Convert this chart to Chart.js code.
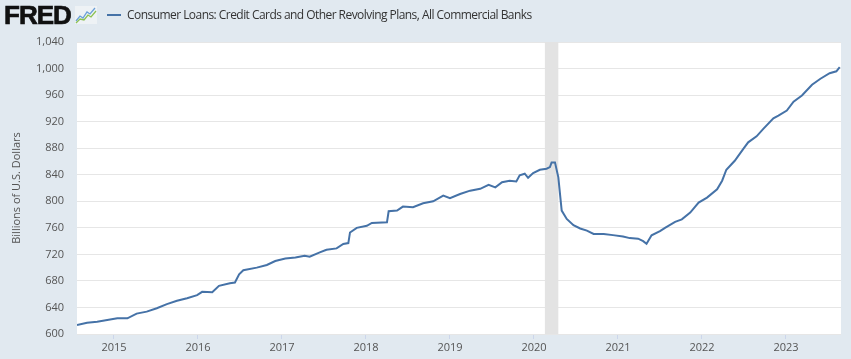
<!DOCTYPE html>
<html>
<head>
<meta charset="utf-8">
<title>Consumer Loans: Credit Cards and Other Revolving Plans</title>
<script src="https://cdn.jsdelivr.net/npm/chart.js@4.4.0/dist/chart.umd.min.js"></script>
<style>
  html, body { margin: 0; padding: 0; background: #e1e9f0; }
  #wrap { position: relative; width: 851px; height: 359px; overflow: hidden; background: #e1e9f0; }
  #chart { position: absolute; left: 0; top: 0; }
  .logo { position: absolute; left: 4px; top: 0px; font: bold 26px "Liberation Sans", Arial, sans-serif;
          letter-spacing: -1px; color: #111; line-height: 30px; -webkit-text-stroke: 0.7px #111; }
  .icon { position: absolute; left: 75px; top: 6px; }
  .swatch { position: absolute; left: 107px; top: 14px; width: 14px; height: 2px; background: #4572a7; }
  .legend { position: absolute; left: 127px; top: 6px; font: 12px "Open Sans", sans-serif; color: #333;
            line-height: 18px; letter-spacing: -0.55px; }
</style>
</head>
<body>
<div id="wrap">
  <canvas id="chart" width="851" height="359"></canvas>
  <div class="logo">FRED</div>
  <svg class="icon" width="22" height="18" viewBox="0 0 22 18">
    <rect x="0" y="0" width="22" height="18" fill="#eef2f5"/>
    <polyline points="1,15 5,10 8,12 12,6 15,8 20,2" fill="none" stroke="#6a9fd8" stroke-width="1.3"/>
    <polyline points="1,17 5,13 9,14 13,9 16,11 21,5" fill="none" stroke="#8cc152" stroke-width="1.3"/>
  </svg>
  <div class="swatch"></div>
  <div class="legend">Consumer Loans: Credit Cards and Other Revolving Plans, All Commercial Banks</div>
</div>
<script>
// dates as decimal years, values in billions of dollars
var weeks = [
    2014.56, 2014.68, 2014.80, 2014.92, 2015.04, 2015.16, 2015.27, 2015.39, 2015.51, 2015.63,
    2015.75, 2015.87, 2015.99, 2016.05, 2016.17, 2016.25, 2016.38, 2016.44, 2016.49, 2016.54,
    2016.70, 2016.82, 2016.92, 2017.04, 2017.16, 2017.27, 2017.33, 2017.45, 2017.53, 2017.65,
    2017.73, 2017.79, 2017.81, 2017.89, 2018.01, 2018.07, 2018.25, 2018.27, 2018.37, 2018.44,
    2018.56, 2018.68, 2018.80, 2018.92, 2019.00, 2019.12, 2019.24, 2019.36, 2019.46, 2019.54,
    2019.62, 2019.71, 2019.79, 2019.83, 2019.89, 2019.93, 2019.99, 2020.07, 2020.15, 2020.19,
    2020.21, 2020.25, 2020.29, 2020.33, 2020.39, 2020.47, 2020.55, 2020.63, 2020.71, 2020.83,
    2020.94, 2021.06, 2021.14, 2021.24, 2021.30, 2021.34, 2021.40, 2021.50, 2021.56, 2021.68,
    2021.76, 2021.86, 2021.96, 2022.06, 2022.18, 2022.24, 2022.29, 2022.39, 2022.49, 2022.55,
    2022.65, 2022.73, 2022.85, 2022.91, 2023.01, 2023.09, 2023.19, 2023.31, 2023.41, 2023.52,
    2023.60, 2023.64
];
var loans = [
    613.6, 617.0, 618.6, 621.0, 623.7, 623.7, 630.7, 633.7, 638.8, 645.0,
    650.0, 654.0, 658.5, 663.5, 663.0, 672.6, 676.6, 677.6, 690.0, 696.0,
    700.0, 704.0, 710.0, 713.9, 715.4, 718.0, 716.4, 723.0, 727.0, 729.0,
    735.6, 737.0, 753.0, 760.0, 763.0, 767.4, 768.3, 785.0, 786.0, 792.0,
    791.0, 797.0, 800.0, 808.6, 804.6, 811.0, 816.0, 818.8, 824.8, 821.0,
    828.8, 831.0, 829.8, 839.0, 841.5, 835.4, 842.4, 847.5, 849.0, 851.5,
    858.6, 858.6, 836.0, 786.0, 773.4, 764.0, 759.0, 755.7, 750.7, 750.7,
    749.0, 747.0, 744.5, 743.6, 740.0, 736.0, 748.7, 755.0, 760.0, 769.0,
    772.8, 783.0, 798.0, 805.6, 818.0, 831.0, 847.5, 861.0, 878.7, 888.8,
    897.8, 909.0, 925.0, 929.0, 936.7, 950.0, 959.4, 975.5, 984.6, 993.0,
    995.8, 1002.0
];
var yearTicks = [2015, 2016, 2017, 2018, 2019, 2020, 2021, 2022, 2023];
var yearLabels = ['2015', '2016', '2017', '2018', '2019', '2020', '2021', '2022', '2023'];
var recession = [2020.13, 2020.29];

var points = weeks.map(function(w, i) { return { x: w, y: loans[i] }; });

var plotBg = {
    id: 'plotBg',
    beforeDraw: function(chart) {
        var a = chart.chartArea, ctx = chart.ctx;
        ctx.save();
        ctx.fillStyle = '#ffffff';
        ctx.fillRect(a.left, a.top, a.right - a.left, a.bottom - a.top);
        ctx.restore();
    },
    beforeDatasetsDraw: function(chart) {
        var a = chart.chartArea, ctx = chart.ctx, x = chart.scales.x;
        var x0 = x.getPixelForValue(recession[0]);
        var x1 = x.getPixelForValue(recession[1]);
        ctx.save();
        ctx.fillStyle = '#e3e3e3';
        ctx.fillRect(x0, a.top, x1 - x0, a.bottom - a.top);
        ctx.restore();
    }
};

var ctx = document.getElementById('chart').getContext('2d');
var chart = new Chart(ctx, {
    type: 'line',
    data: {
        datasets: [{
            label: 'Consumer Loans: Credit Cards and Other Revolving Plans, All Commercial Banks',
            data: points,
            borderColor: '#4572a7',
            borderWidth: 2,
            pointRadius: 0,
            tension: 0,
            fill: false
        }]
    },
    options: {
        responsive: false,
        animation: false,
        layout: { padding: { top: 42, right: 10, left: 0, bottom: 0 } },
        plugins: {
            legend: { display: false },
            tooltip: { enabled: false }
        },
        scales: {
            x: {
                type: 'linear',
                min: 2014.56,
                max: 2023.655,
                afterFit: function(s) { s.height = 25; },
                afterBuildTicks: function(s) {
                    s.ticks = yearTicks.map(function(v) { return { value: v }; });
                },
                grid: { display: true, drawOnChartArea: false, drawTicks: true, tickLength: 5, color: '#ccd6eb' },
                border: { display: false },
                ticks: {
                    autoSkip: false,
                    maxRotation: 0,
                    padding: 2,
                    color: '#555',
                    font: { family: 'Open Sans', size: 11 },
                    callback: function(v) {
                        var i = yearTicks.indexOf(v);
                        return i >= 0 ? yearLabels[i] : '';
                    }
                }
            },
            y: {
                min: 600,
                max: 1040,
                afterFit: function(s) { s.width = 77; },
                grid: { color: '#e6e6e6', lineWidth: 1, drawTicks: false },
                border: { display: false },
                ticks: {
                    stepSize: 40,
                    padding: 13,
                    color: '#555',
                    font: { family: 'Open Sans', size: 11 },
                    callback: function(v) { return v.toLocaleString('en-US'); }
                },
                title: {
                    display: true,
                    text: 'Billions of U.S. Dollars',
                    color: '#555',
                    font: { family: 'Open Sans', size: 11 },
                    padding: { top: 10, bottom: 0 }
                }
            }
        }
    },
    plugins: [plotBg]
});
</script>
</body>
</html>
